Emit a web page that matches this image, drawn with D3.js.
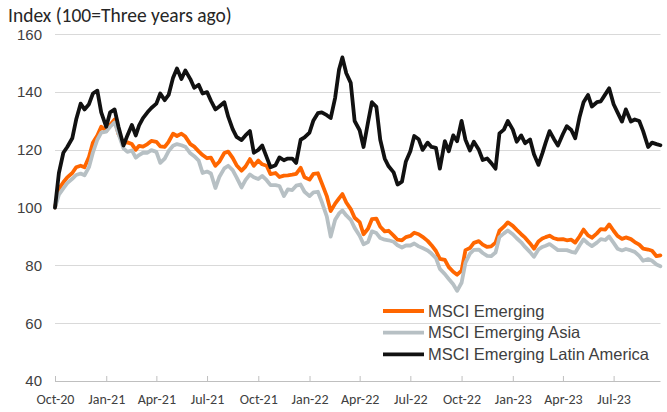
<!DOCTYPE html>
<html><head><meta charset="utf-8">
<script src="https://cdn.jsdelivr.net/npm/d3@7"></script>
<style>
body{margin:0;background:#fff;}
svg{display:block;}
</style></head>
<body><svg id="chart" width="667" height="412"></svg>
<script>
// Sample dates: 1st, 8th, 16th, 23rd of each month from Oct-2020 to Sep-2023
const sampleDays = [1, 8, 16, 23];
const dates = [];
for (let m = 0; m < 36; m++) for (const d of sampleDays) dates.push(new Date(2020, 9 + m, d));

const seriesNames = ["MSCI Emerging", "MSCI Emerging Asia", "MSCI Emerging Latin America"];
const seriesColors = ["#ff6600", "#b7c0c4", "#111111"];

const msciEM = [100,106.5,108.8,110.5,112,114,114.5,114,117.5,122.5,125,128,126.5,128.6,130.5,125.5,122.4,122.6,122,120,121.4,121.1,122,123.1,122.8,121.2,121,122.8,125.6,124.8,125.6,124.6,122,121.1,119.5,118.2,117.1,117.3,114.5,115.9,118.9,119.4,117.2,114.7,112.8,114.2,116.8,114.5,116.3,115,114.5,111.6,112,110.6,111.1,111.2,111.4,111.7,113.8,110.5,109.7,111.7,111.9,108.5,104,98.8,101.4,103.2,104.7,101.8,99.5,96.5,95,90.8,92.7,96,96.2,93.4,91.8,92,90.3,88.9,88.7,89.8,90.2,91.3,90.8,89.9,88.5,87,85,82.3,81.9,79.4,77.8,76.8,78.2,85.3,86,87.8,88.4,87.2,86.4,86.6,87.9,92,93.4,94.9,93.7,92.3,90.8,89.6,87.6,85.8,88.3,89.3,89.8,90.3,89.4,89,89.1,88.7,88.9,87.9,90.1,92.4,90.4,89.6,91.1,92.6,92.4,94.2,92,90.2,89.2,89.7,89.1,88.1,87.2,85.8,85.5,85.1,83.2,83.5];

const msciAsia = [100,104.5,106.7,108.5,110,111.3,111.8,111.2,114,119,123.5,126,126.3,128,129.5,125.5,120.5,119.3,119.8,117.3,118.2,119,119,119.9,119.3,115.5,117,119.6,121.4,122,121.6,121.1,118.8,117.8,116.3,112,112.5,111.8,106.8,110.6,113.6,114.5,113,110.5,107,109.5,111.5,110.5,109.9,111,109.5,107.8,107.8,107.5,104,106.3,106.1,107.6,108,105.5,104,105.3,105.5,102,97,90,95.8,98,99,97.3,95.8,93,90.3,87.3,88.1,91.8,91.2,89.5,88.9,88.7,88.2,87,86.2,86.9,86.9,87.6,86.6,86,85.2,84.1,82.5,78.8,77,75.3,73.5,71.2,74,81,84.1,85.4,85.5,84.3,83.3,83.2,84.5,89.8,91.1,92.1,90.8,89.4,88,86.4,84.6,83,85.5,86.4,86.8,87.4,86.3,85.3,85.3,85.3,84.7,84.4,87,89,87.6,86.7,87.9,89.1,88.8,90,87.8,85.8,85.2,85.7,85.2,84.7,83.3,81.6,82.2,81.6,80.3,79.7];

const msciLatAm = [100,112,119,121,124,130.5,136,134,135.8,139.5,140.5,133,128,133,134,128,121.5,125,128.6,125,128.5,131,133,134.5,136,139.5,137.2,139,145,148.2,144.5,147.5,144.5,141.5,142.5,139.5,140,137,134,135,136.5,131.5,127.2,124.5,123.4,125,126.5,119,120,121.5,117.5,114,114.7,117.4,116.4,117,117,115.5,123.5,124.3,126,130.2,132.7,133,132,131,138,147.8,152,146.5,143.2,130,126.8,121,129.5,136.5,134.9,123.5,117,114.3,112.2,108,109,116,119.5,124.8,123.7,120,122.5,121,120.7,113.5,123,119.5,125,123,130,123.5,119.8,122.8,120,116.5,117,115.5,113.5,125.7,127,130,127,122.8,125,122.3,123.6,118.5,114.8,118.8,122.5,126.5,123.7,121.5,125.5,128.2,126.9,124,131.5,136.5,139,135,136.5,136.8,139.2,141.3,135.8,133,129.8,134,129.8,130.5,130,126.5,121,122.5,122,121.6];

const yTicks = [40, 60, 80, 100, 120, 140, 160];
const xTickDates = [];
for (let m = 0; m < 36; m += 3) xTickDates.push(new Date(2020, 9 + m, 1));
const title = "Index (100=Three years ago)";

(function () {
  const svg = d3.select("#chart");
  const pl = 55, pr = 660.5, pt = 34.3, pb = 381;

  const x = d3.scaleTime().domain([new Date(2020, 9, 1), new Date(2023, 8, 23)]).range([pl, 660.4]);
  const y = d3.scaleLinear().domain([40, 160]).range([pb, pt]);

  // gridlines
  svg.append("g").selectAll("line").data(yTicks.filter(d => d > 40)).join("line")
    .attr("x1", pl).attr("x2", pr)
    .attr("y1", d => Math.round(y(d)) + 0.5).attr("y2", d => Math.round(y(d)) + 0.5)
    .attr("stroke", "#d9d9d9").attr("stroke-width", 1);

  // y axis labels
  const yAxis = d3.axisLeft(y).tickValues(yTicks).tickSize(0).tickPadding(13);
  const gy = svg.append("g").attr("transform", `translate(${pl},0)`).call(yAxis);
  gy.select(".domain").remove();
  gy.selectAll("text").attr("font-family", "'Liberation Sans', Arial, sans-serif")
    .attr("font-size", 15).attr("fill", "#404040");

  // x axis
  const xAxis = d3.axisBottom(x).tickValues(xTickDates).tickSize(-5).tickSizeOuter(0)
    .tickFormat(d3.timeFormat("%b-%y")).tickPadding(13);
  const gx = svg.append("g").attr("transform", `translate(0,${pb})`).call(xAxis);
  gx.select(".domain").attr("stroke", "#bfbfbf").attr("d", `M${pl},0.5H${pr}`);
  gx.selectAll(".tick line").attr("stroke", "#bfbfbf");
  gx.selectAll("text").attr("font-family", "Carlito, Calibri, Lato, sans-serif")
    .attr("font-size", 14).attr("fill", "#404040");

  // title
  svg.append("text").attr("x", 8).attr("y", 22).text(title)
    .attr("font-family", "Carlito, Calibri, Lato, sans-serif").attr("font-size", 19.5).attr("fill", "#262626");

  // lines
  const allSeries = [msciEM, msciAsia, msciLatAm];
  const line = d3.line().x((d, i) => x(dates[i])).y(d => y(d));
  svg.append("g").selectAll("path").data(allSeries).join("path")
    .attr("d", d => line(d)).attr("fill", "none")
    .attr("stroke", (d, i) => seriesColors[i]).attr("stroke-width", 3.8)
    .attr("stroke-linejoin", "round").attr("stroke-linecap", "round");

  // legend
  const lg = svg.append("g").attr("transform", "translate(383,311)");
  const items = lg.selectAll("g").data(seriesNames).join("g")
    .attr("transform", (d, i) => `translate(0,${i * 21.7})`);
  items.append("line").attr("x1", 0).attr("x2", 41).attr("y1", 0).attr("y2", 0)
    .attr("stroke", (d, i) => seriesColors[i]).attr("stroke-width", 3.8);
  items.append("text").attr("x", 45).attr("y", 0).attr("dy", "0.35em").text(d => d)
    .attr("font-family", "'Liberation Sans', Arial, sans-serif").attr("font-size", 16.5).attr("fill", "#404040");
})();
</script></body></html>
